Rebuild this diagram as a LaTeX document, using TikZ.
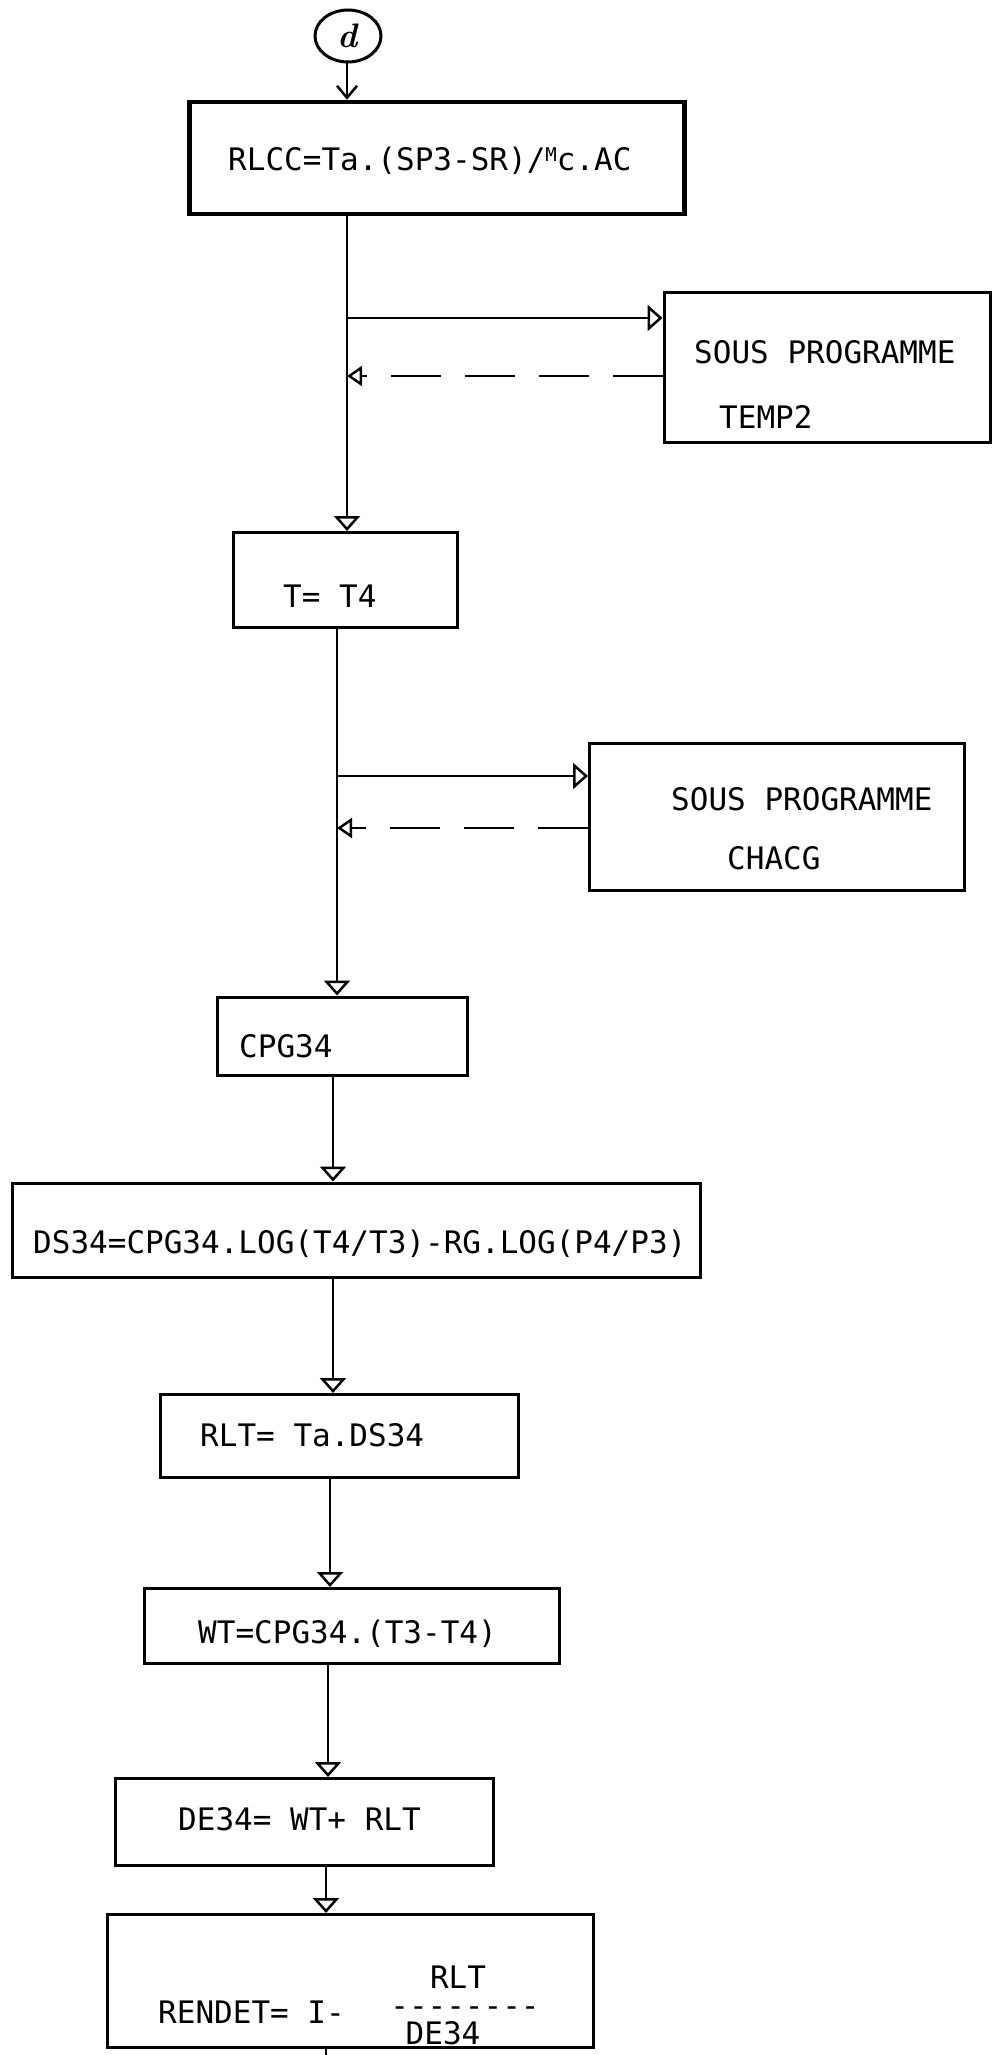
\documentclass[tikz,border=0pt]{standalone}
\usepackage{fontspec}
\newfontfamily\typewriter{DejaVu Sans Mono}
\usetikzlibrary{arrows.meta,shapes.geometric}

\begin{document}
\begin{tikzpicture}[x=1pt,y=-1pt,
box/.style={draw,rectangle,line width=3pt,inner sep=0pt},
txt/.style={font=\typewriter\fontsize{31}{36}\selectfont,inner sep=0pt,anchor=base west},
flow/.style={line width=2.5pt,-{Triangle[open,length=15pt,width=26pt,line width=2.5pt]}},
back/.style={line width=2.5pt,dash pattern=on 50pt off 24pt,-{Triangle[open,length=15pt,width=20pt,line width=2.5pt]}},]
\useasboundingbox (0,0) rectangle (993,2055);

\node[draw,ellipse,line width=3pt,minimum width=66pt,minimum height=52pt,inner sep=0pt,font=\bfseries\itshape\fontsize{34}{34}\selectfont] (start) at (348,36) {d};

\node[box,line width=4.5pt,minimum width=495pt,minimum height=112pt] (rlcc) at (437,158) {};
\node[txt] at (228,171) {RLCC=Ta.(SP3-SR)/\raisebox{9pt}{\fontsize{19}{19}\selectfont M}c.AC};

\node[box,minimum width=326pt,minimum height=150pt] (temp) at (827,367) {};
\node[txt] at (694,363) {SOUS PROGRAMME};
\node[txt] at (719,428) {TEMP2};

\node[box,minimum width=224pt,minimum height=95pt] (tfour) at (345,580) {};
\node[txt] at (283,607) {T= T4};

\node[box,minimum width=375pt,minimum height=147pt] (chacg) at (777,817) {};
\node[txt] at (671,810) {SOUS PROGRAMME};
\node[txt] at (727,869) {CHACG};

\node[box,minimum width=250pt,minimum height=78pt] (cpg) at (342,1036) {};
\node[txt] at (239,1057) {CPG34};

\node[box,minimum width=688pt,minimum height=94pt] (dsfour) at (356,1230) {};
\node[txt] at (33,1253) {DS34=CPG34.LOG(T4/T3)-RG.LOG(P4/P3)};

\node[box,minimum width=358pt,minimum height=83pt] (rlt) at (339,1436) {};
\node[txt] at (200,1446) {RLT= Ta.DS34};

\node[box,minimum width=415pt,minimum height=75pt] (wt) at (352,1626) {};
\node[txt] at (198,1643) {WT=CPG34.(T3-T4)};

\node[box,minimum width=378pt,minimum height=87pt] (de) at (304,1822) {};
\node[txt] at (178,1830) {DE34= WT+ RLT};

\node[box,minimum width=486pt,minimum height=133pt] (rendet) at (350,1981) {};
\node[txt] at (158,2023) {RENDET= I-};
\node[txt,anchor=base] (num) at (458,1988) {RLT};
\node[txt,anchor=base] (bar) at (465,2016) {--------};
\node[txt,anchor=base] (den) at (443,2044) {DE34};

\coordinate (a1) at (347,0);
\coordinate (b1) at (347,318);
\coordinate (r1) at (347,376);
\coordinate (b2) at (337,776);
\coordinate (r2) at (337,828);
\coordinate (c3) at (333,0);
\coordinate (c4) at (330,0);
\coordinate (c5) at (328,0);
\coordinate (c6) at (326,2055);

\draw[line width=2.5pt,-{Straight Barb[length=12pt,width=20pt,line width=2.5pt]}] (start.south -| a1) -- (rlcc.north -| a1);
\draw[flow] (rlcc.south -| b1) -- (tfour.north -| b1);
\draw[flow] (b1) -- (b1 -| temp.west);
\draw[back] (r1 -| temp.west) -- (r1);
\draw[flow] (tfour.south -| b2) -- (cpg.north -| b2);
\draw[flow] (b2) -- (b2 -| chacg.west);
\draw[back] (r2 -| chacg.west) -- (r2);
\draw[flow] (cpg.south -| c3) -- (dsfour.north -| c3);
\draw[flow] (dsfour.south -| c3) -- (rlt.north -| c3);
\draw[flow] (rlt.south -| c4) -- (wt.north -| c4);
\draw[flow] (wt.south -| c5) -- (de.north -| c5);
\draw[flow] (de.south -| c6) -- (rendet.north -| c6);
\draw[line width=2.5pt] (rendet.south -| c6) -- (c6);

\end{tikzpicture}
\end{document}
